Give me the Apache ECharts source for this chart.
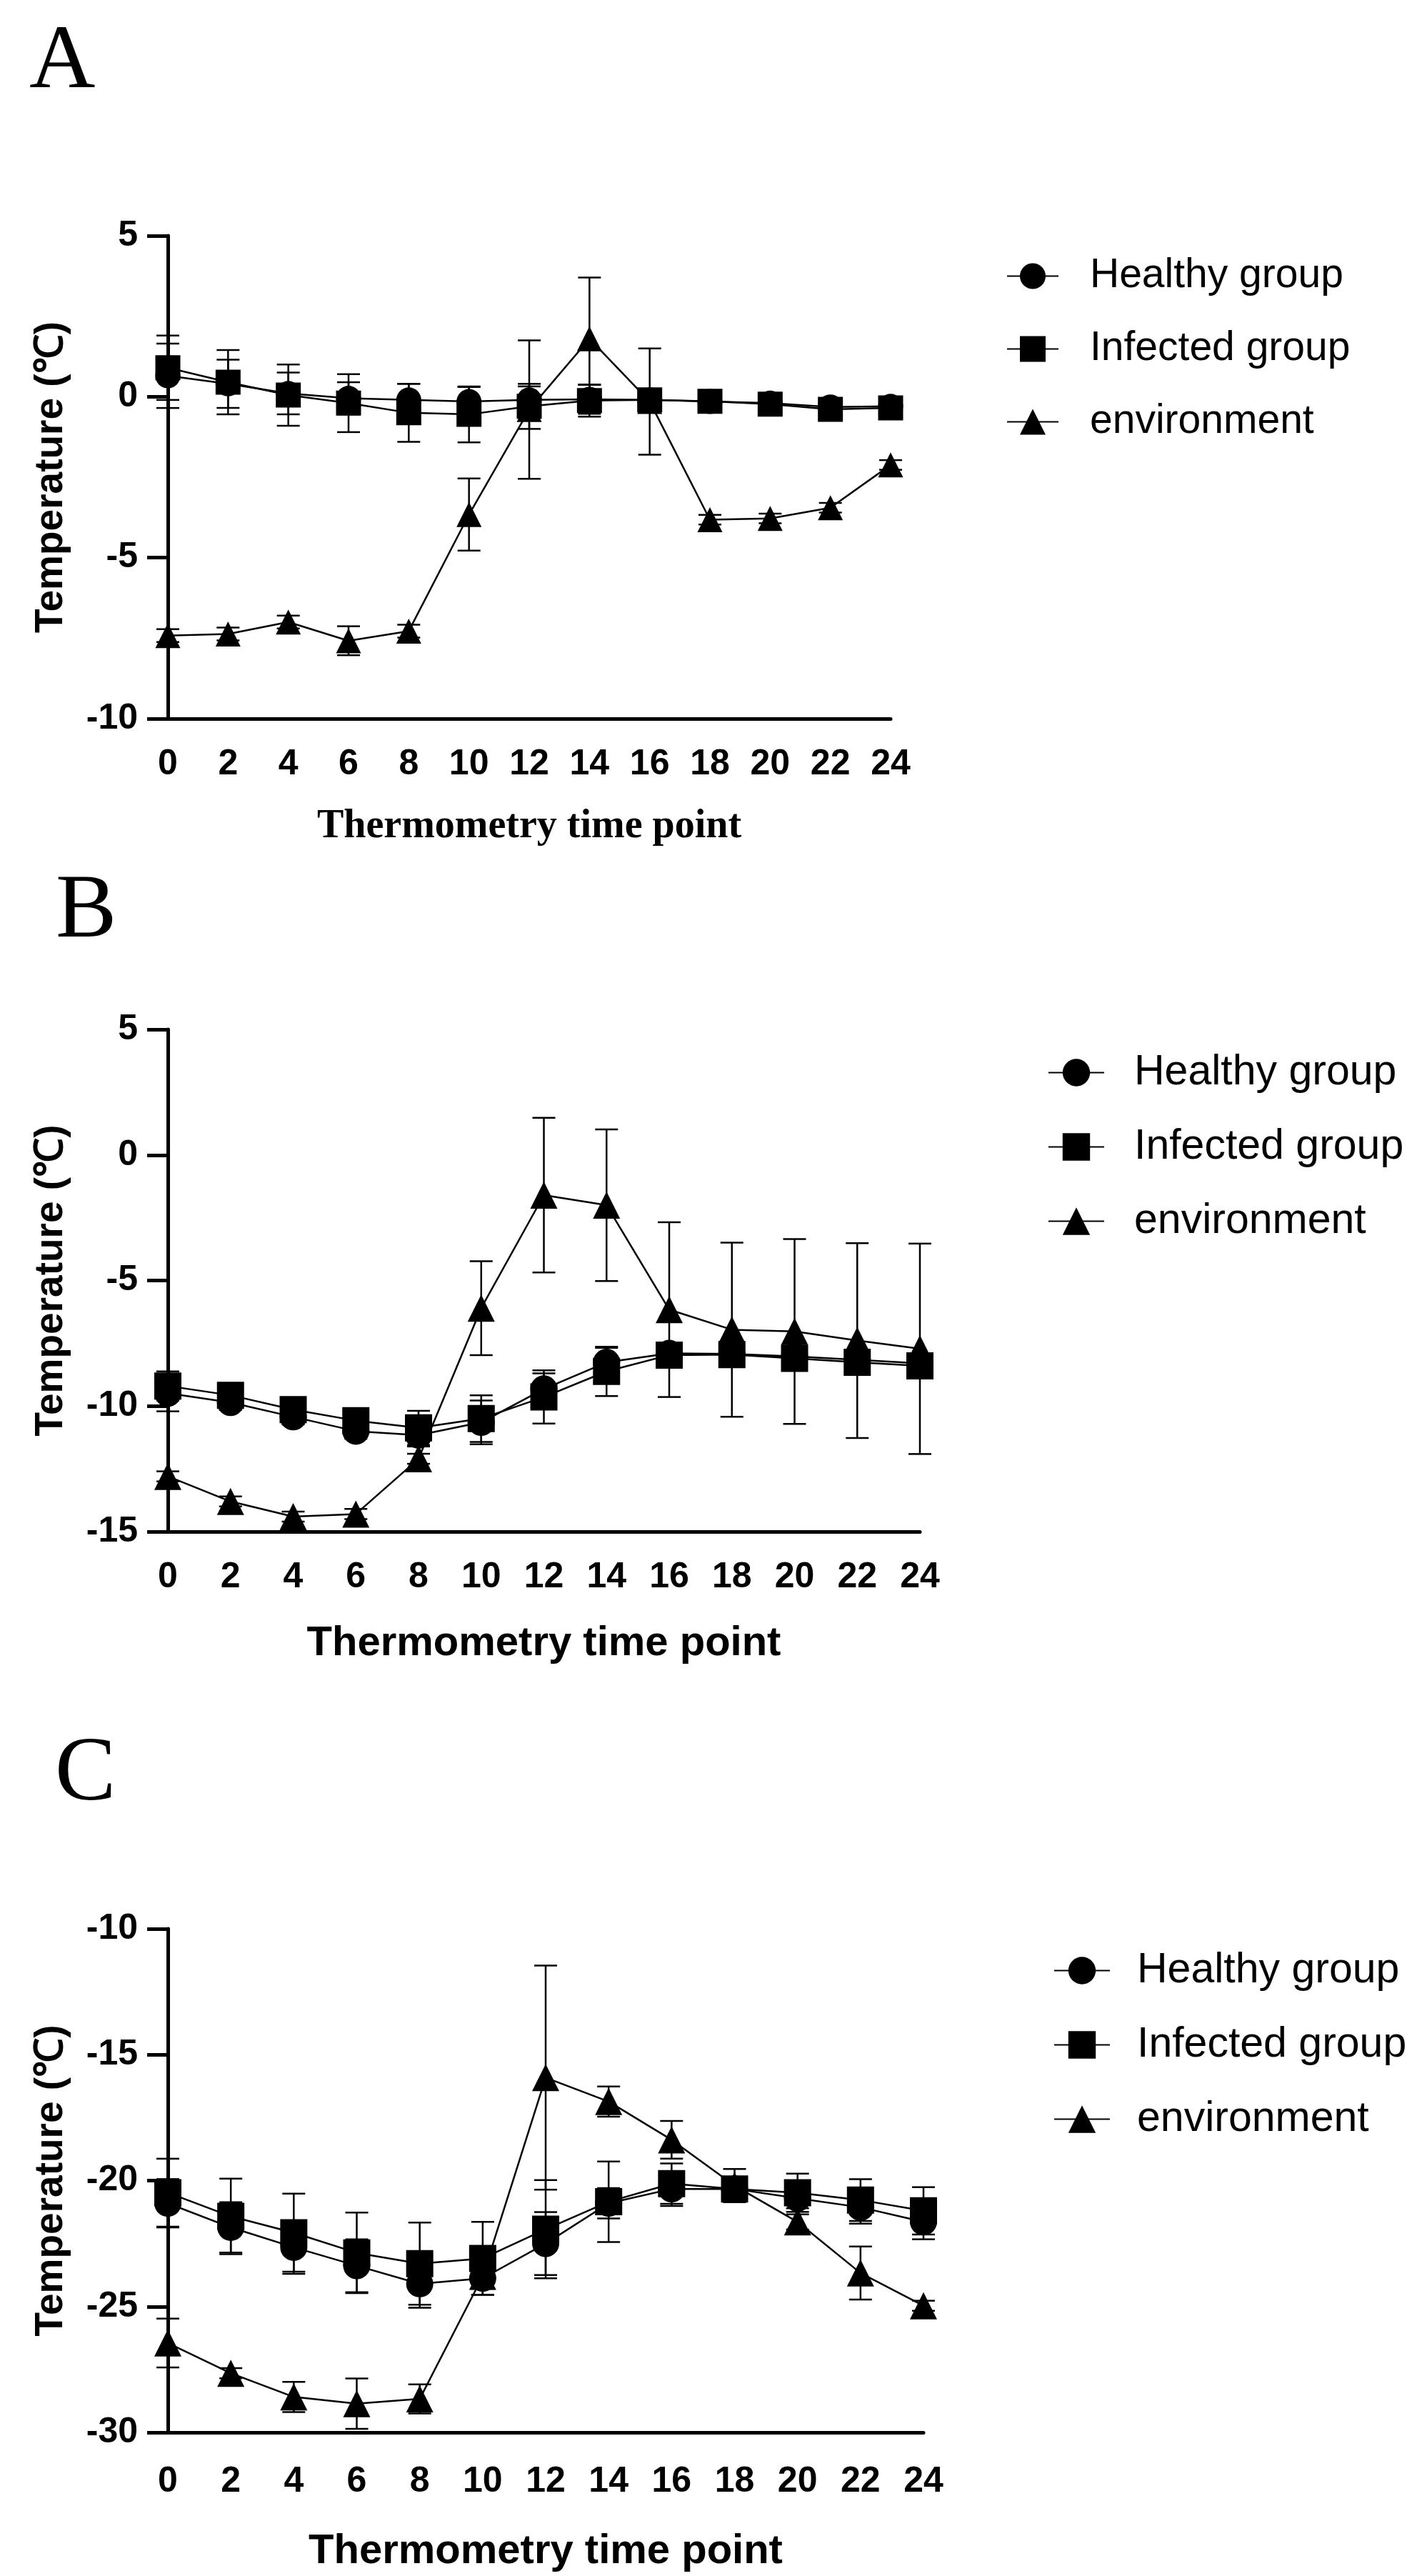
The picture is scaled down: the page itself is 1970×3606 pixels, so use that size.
<!DOCTYPE html>
<html lang="en">
    <head>
        <title>Temperature by thermometry time point</title>
        <meta charset="utf-8">
        <script src="https://cdn.jsdelivr.net/npm/echarts@6/dist/echarts.min.js"></script>
    </head>

    <style>
        html, body {
            margin: 0;
            background: #fff;
        }

        #main {
            width: 1970px;
            height: 3606px;
        }
    </style>

    <body>
        <div id="main"></div>

        <script>
            const timePoints = [0, 2, 4, 6, 8, 10, 12, 14, 16, 18, 20, 22, 24];
            const groupNames = ['Healthy group', 'Infected group', 'environment'];

            // panel A
            const healthyA = [0.65, 0.4, 0.1, -0.05, -0.1, -0.15, -0.1, -0.08, -0.1, -0.15, -0.2, -0.32, -0.3];
            const healthyAErr = [1.0, 0.75, 0.65, 0.5, 0.5, 0.45, 0.42, 0.45, 0.2, 0.15, 0.15, 0.15, 0.15];
            const infectedA = [0.9, 0.45, 0.05, -0.2, -0.5, -0.55, -0.3, -0.12, -0.1, -0.14, -0.23, -0.39, -0.35];
            const infectedAErr = [1.0, 1.0, 0.95, 0.9, 0.9, 0.87, 0.7, 0.5, 0.2, 0.15, 0.15, 0.15, 0.15];
            const envA = [-7.42, -7.37, -7.0, -7.58, -7.28, -3.66, -0.4, 1.8, -0.15, -3.82, -3.78, -3.45, -2.12];
            const envAErr = [0.2, 0.2, 0.2, 0.45, 0.2, 1.12, 2.15, 1.9, 1.65, 0.15, 0.15, 0.15, 0.15];

            // panel B
            const healthyB = [-9.49, -9.86, -10.43, -11.0, -11.16, -10.65, -9.32, -8.26, -7.9, -7.92, -8.02, -8.16, -8.3];
            const healthyBErr = [0.72, 0.3, 0.3, 0.3, 0.45, 0.87, 0.62, 0.58, 0.3, 0.3, 0.3, 0.3, 0.3];
            const infectedB = [-9.2, -9.57, -10.14, -10.58, -10.87, -10.5, -9.64, -8.62, -7.97, -7.95, -8.1, -8.26, -8.4];
            const infectedBErr = [0.58, 0.3, 0.3, 0.3, 0.68, 0.93, 1.06, 0.98, 0.4, 0.3, 0.3, 0.3, 0.3];
            const envB = [-12.8, -13.8, -14.4, -14.3, -12.1, -6.1, -1.6, -2.0, -6.16, -6.96, -7.03, -7.39, -7.72];
            const envBErr = [0.2, 0.2, 0.2, 0.2, 0.2, 1.87, 3.08, 3.02, 3.48, 3.47, 3.68, 3.88, 4.19];

            // panel C
            const healthyC = [-20.9, -21.86, -22.65, -23.38, -24.1, -23.88, -22.5, -20.9, -20.33, -20.33, -20.7, -21.06, -21.64];
            const healthyCErr = [0.96, 1.0, 1.05, 1.05, 0.95, 0.65, 1.25, 0.6, 0.68, 0.4, 0.4, 0.65, 0.69];
            const infectedC = [-20.48, -21.42, -22.07, -22.87, -23.3, -23.09, -21.93, -20.84, -20.12, -20.33, -20.48, -20.77, -21.2];
            const infectedCErr = [1.35, 1.5, 1.55, 1.6, 1.63, 1.45, 1.95, 1.6, 0.8, 0.4, 0.76, 0.83, 0.94];
            const envC = [-26.45, -27.65, -28.59, -28.86, -28.67, -23.8, -15.91, -16.86, -18.38, -20.2, -21.64, -23.67, -24.97];
            const envCErr = [0.97, 0.2, 0.6, 1.0, 0.58, 0.5, 4.45, 0.6, 0.75, 0.66, 0.3, 1.05, 0.2];

            const yTicksA = { min: -10, max: 5, interval: 5 };
            const yTicksB = { min: -15, max: 5, interval: 5 };
            const yTicksC = { min: -30, max: -10, interval: 5 };

            const sans = 'Liberation Sans';
            const serif = 'Liberation Serif';
            const symbols = ['circle', 'rect', 'triangle'];

            const chart = echarts.init(document.getElementById('main'));

            const pairs = (values) => timePoints.map((t, i) => [t, values[i]]);
            const ranges = (values, errs) => timePoints.map((t, i) => [t, values[i] - errs[i], values[i] + errs[i]]);

            const renderErrorBar = function (params, api) {
                const top = api.coord([api.value(0), api.value(2)]);
                const bottom = api.coord([api.value(0), api.value(1)]);
                const half = 16;
                const style = { stroke: '#000', lineWidth: 2.5 };
                return {
                    type: 'group',
                    children: [
                        { type: 'line', shape: { x1: top[0], y1: top[1], x2: bottom[0], y2: bottom[1] }, style: style },
                        { type: 'line', shape: { x1: top[0] - half, y1: top[1], x2: top[0] + half, y2: top[1] }, style: style },
                        { type: 'line', shape: { x1: bottom[0] - half, y1: bottom[1], x2: bottom[0] + half, y2: bottom[1] }, style: style }
                    ]
                };
            };

            const panels = [
                {
                    grid: { left: 235, top: 330, width: 1012, height: 676 },
                    y: yTicksA, values: [healthyA, infectedA, envA], errs: [healthyAErr, infectedAErr, envAErr],
                    symbolSize: 35, labelMargin: 39,
                    xName: { font: serif, size: 56, gap: 124 },
                    legend: { left: 1404, top: 353, itemWidth: 72, itemHeight: 45, itemGap: 45, size: 57, pad: 39 }
                },
                {
                    grid: { left: 235, top: 1441, width: 1053, height: 703 },
                    y: yTicksB, values: [healthyB, infectedB, envB], errs: [healthyBErr, infectedBErr, envBErr],
                    symbolSize: 38, labelMargin: 39,
                    xName: { font: sans, size: 58, gap: 128 },
                    legend: { left: 1462, top: 1467, itemWidth: 78, itemHeight: 48, itemGap: 45, size: 59, pad: 37 }
                },
                {
                    grid: { left: 235, top: 2700, width: 1058, height: 705 },
                    y: yTicksC, values: [healthyC, infectedC, envC], errs: [healthyCErr, infectedCErr, envCErr],
                    symbolSize: 38, labelMargin: 44,
                    xName: { font: sans, size: 58, gap: 138 },
                    legend: { left: 1470, top: 2724, itemWidth: 78, itemHeight: 48, itemGap: 45, size: 59, pad: 33 }
                }
            ];

            const option = {
                animation: false,
                backgroundColor: '#fff',
                title: [
                    { text: 'A', left: 36, top: 19 },
                    { text: 'B', left: 73, top: 1208 },
                    { text: 'C', left: 72, top: 2416 }
                ].map(t => Object.assign(t, {
                    textStyle: { fontFamily: serif, fontSize: 128, fontWeight: 'normal', color: '#000' }
                })),
                grid: panels.map(p => p.grid),
                legend: panels.map(p => ({
                    orient: 'vertical',
                    left: p.legend.left,
                    top: p.legend.top,
                    itemWidth: p.legend.itemWidth,
                    itemHeight: p.legend.itemHeight,
                    itemGap: p.legend.itemGap,
                    data: groupNames,
                    textStyle: {
                        fontFamily: sans,
                        fontSize: p.legend.size,
                        color: '#000',
                        lineHeight: p.legend.itemHeight,
                        padding: [0, 0, 0, p.legend.pad]
                    }
                })),
                xAxis: panels.map((p, i) => ({
                    type: 'value',
                    gridIndex: i,
                    min: 0,
                    max: 24,
                    interval: 2,
                    name: 'Thermometry time point',
                    nameLocation: 'middle',
                    nameGap: p.xName.gap,
                    nameTextStyle: { fontFamily: p.xName.font, fontSize: p.xName.size, fontWeight: 'bold', color: '#000' },
                    axisLine: { show: true, onZero: false, lineStyle: { color: '#000', width: 5 } },
                    axisTick: { show: false },
                    splitLine: { show: false },
                    axisLabel: { margin: p.labelMargin, fontFamily: sans, fontSize: 50, fontWeight: 'bold', color: '#000' }
                })),
                yAxis: panels.map((p, i) => ({
                    type: 'value',
                    gridIndex: i,
                    min: p.y.min,
                    max: p.y.max,
                    interval: p.y.interval,
                    name: 'Temperature (℃)',
                    nameLocation: 'middle',
                    nameGap: 136,
                    nameTextStyle: { fontFamily: sans, fontSize: 55, fontWeight: 'bold', color: '#000' },
                    axisLine: { show: true, onZero: false, lineStyle: { color: '#000', width: 5 } },
                    axisTick: { show: true, inside: false, length: 29, lineStyle: { color: '#000', width: 5 } },
                    splitLine: { show: false },
                    axisLabel: { margin: 42, fontFamily: sans, fontSize: 50, fontWeight: 'bold', color: '#000' }
                })),
                series: []
            };

            panels.forEach((p, i) => {
                groupNames.forEach((name, k) => {
                    option.series.push({
                        type: 'custom',
                        name: name + ' SD',
                        xAxisIndex: i,
                        yAxisIndex: i,
                        renderItem: renderErrorBar,
                        encode: { x: 0, y: [1, 2] },
                        data: ranges(p.values[k], p.errs[k]),
                        clip: false,
                        silent: true,
                        z: 1
                    });
                });
                groupNames.forEach((name, k) => {
                    option.series.push({
                        type: 'line',
                        name: name,
                        xAxisIndex: i,
                        yAxisIndex: i,
                        data: pairs(p.values[k]),
                        symbol: symbols[k],
                        symbolSize: p.symbolSize,
                        showSymbol: true,
                        clip: false,
                        lineStyle: { color: '#000', width: 2.5 },
                        itemStyle: { color: '#000', borderWidth: 0 },
                        emphasis: { disabled: true },
                        z: 2 + k
                    });
                });
            });

            chart.setOption(option);

            window.onresize = function () {
                chart.resize();
            }
        </script>
    </body>
</html>
